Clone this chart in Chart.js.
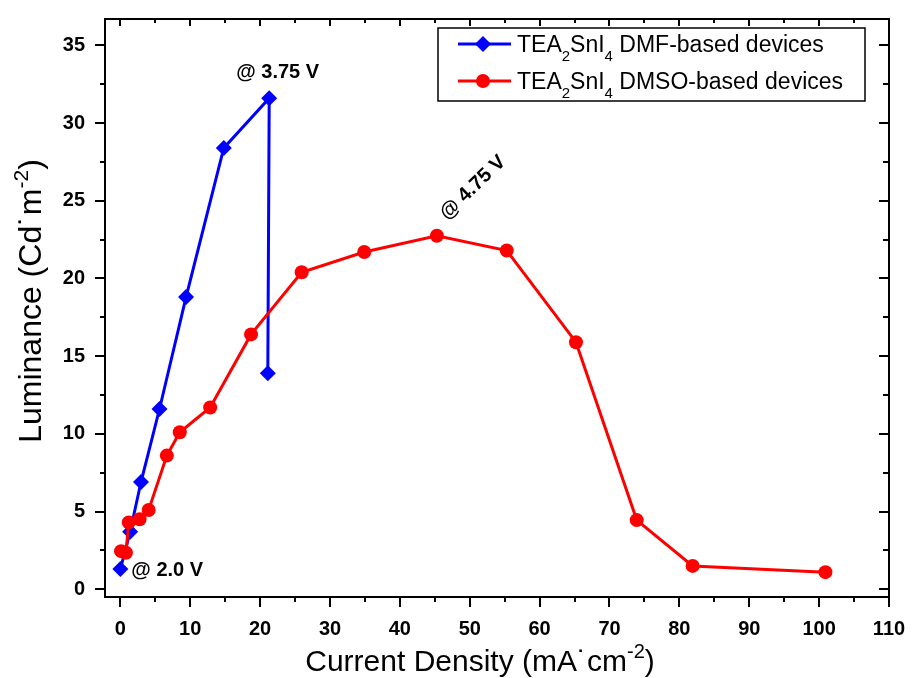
<!DOCTYPE html>
<html>
<head>
<meta charset="utf-8">
<script src="https://cdn.jsdelivr.net/npm/chart.js@4.4.1/dist/chart.umd.min.js"></script>
<style>
  html, body { margin: 0; background: #fff; }
</style>
</head>
<body>
<canvas id="chart" width="914" height="678"></canvas>
<script>
/* TEA2SnI4 LED luminance vs current density */

const dmfX = [0, 1.4, 2.95, 5.6, 9.4, 14.8, 21.3, 21.1];
const dmfY = [1.3, 3.7, 6.9, 11.6, 18.8, 28.4, 31.6, 13.9];

const dmsoX = [0.1, 0.8, 1.2, 2.75, 4.05, 6.65, 8.5, 12.85, 18.7, 25.95, 34.9, 45.3, 55.3, 65.2, 73.9, 81.9, 100.9];
const dmsoY = [2.45, 2.35, 4.3, 4.5, 5.1, 8.6, 10.1, 11.7, 16.4, 20.4, 21.7, 22.75, 21.8, 15.9, 4.45, 1.5, 1.1];

const xTicks = [0, 10, 20, 30, 40, 50, 60, 70, 80, 90, 100, 110];
const yTicks = [0, 5, 10, 15, 20, 25, 30, 35];

const legendRows = [
  [['TEA', 0], ['2', 1], ['SnI', 0], ['4', 1], [' DMF-based devices', 0]],
  [['TEA', 0], ['2', 1], ['SnI', 0], ['4', 1], [' DMSO-based devices', 0]],
];
const xTitle = [['Current Density (mA\u02D9cm', 0], ['-2', 2], [')', 0]];
const yTitle = [['Luminance (Cd\u02D9m', 0], ['-2', 2], [')', 0]];

const BLUE = '#0000ff';
const RED = '#ff0000';
const FONT = "'Liberation Sans', Arial, sans-serif";

// text with sub (1) / superscript (2) parts
function richWidth(ctx, parts, size, family) {
  let w = 0;
  for (const [t, k] of parts) {
    ctx.font = (k ? Math.round(size * 0.65) : size) + 'px ' + family;
    w += ctx.measureText(t).width;
  }
  return w;
}
function drawRich(ctx, parts, x, y, size, family) {
  ctx.textAlign = 'left';
  ctx.textBaseline = 'alphabetic';
  for (const [t, k] of parts) {
    const s = k ? Math.round(size * 0.65) : size;
    ctx.font = s + 'px ' + family;
    const dy = k === 1 ? size * 0.38 : k === 2 ? -size * 0.42 : 0;
    ctx.fillText(t, x, y + dy);
    x += ctx.measureText(t).width;
  }
}

const frameTicks = {
  id: 'frameTicks',
  afterDraw(chart) {
    const { ctx, chartArea: a, scales: { x, y } } = chart;
    ctx.save();
    ctx.strokeStyle = '#000';
    ctx.lineWidth = 2;
    ctx.strokeRect(a.left, a.top, a.right - a.left, a.bottom - a.top);

    ctx.beginPath();
    xTicks.forEach((v, i) => {
      const px = Math.round(x.getPixelForValue(v));
      ctx.moveTo(px, a.bottom); ctx.lineTo(px, a.bottom + 10);
      ctx.moveTo(px, a.top); ctx.lineTo(px, a.top + 7);
      if (i < xTicks.length - 1) {
        const m = Math.round(x.getPixelForValue((v + xTicks[i + 1]) / 2));
        ctx.moveTo(m, a.bottom); ctx.lineTo(m, a.bottom + 5);
        ctx.moveTo(m, a.top); ctx.lineTo(m, a.top + 4);
      }
    });
    const yAll = yTicks.concat([yTicks[yTicks.length - 1] + 5]);
    yAll.forEach((v, i) => {
      const py = Math.round(y.getPixelForValue(v));
      if (i < yTicks.length) {
        ctx.moveTo(a.left, py); ctx.lineTo(a.left - 10, py);
        ctx.moveTo(a.right, py); ctx.lineTo(a.right - 10, py);
      }
      if (i < yAll.length - 1) {
        const mv = (v + yAll[i + 1]) / 2;
        if (mv < y.max) {
          const m = Math.round(y.getPixelForValue(mv));
          ctx.moveTo(a.left, m); ctx.lineTo(a.left - 5, m);
          ctx.moveTo(a.right, m); ctx.lineTo(a.right - 6, m);
        }
      }
    });
    ctx.stroke();

    // axis titles
    ctx.fillStyle = '#000';
    const xw = richWidth(ctx, xTitle, 30, FONT);
    drawRich(ctx, xTitle, 480 - xw / 2, 671, 30, FONT);

    ctx.save();
    ctx.translate(41, 301);
    ctx.rotate(-Math.PI / 2);
    const yw = richWidth(ctx, yTitle, 32, FONT);
    drawRich(ctx, yTitle, -yw / 2, 0, 32, FONT);
    ctx.restore();

    // legend box
    const bx = a.right - 451, by = 28, bw = 427, bh = 73;
    ctx.lineWidth = 1.5;
    ctx.strokeRect(bx, by, bw, bh);
    const rowY = [44, 81];
    chart.data.datasets.forEach((ds, i) => {
      const cy = rowY[i];
      ctx.strokeStyle = ds.borderColor;
      ctx.lineWidth = 3;
      ctx.beginPath();
      ctx.moveTo(bx + 20, cy); ctx.lineTo(bx + 73, cy);
      ctx.stroke();
      ctx.fillStyle = ds.backgroundColor;
      ctx.beginPath();
      if (ds.pointStyle === 'rectRot') {
        const r = 8;
        ctx.moveTo(bx + 45, cy - r); ctx.lineTo(bx + 45 + r, cy);
        ctx.lineTo(bx + 45, cy + r); ctx.lineTo(bx + 45 - r, cy);
      } else {
        ctx.arc(bx + 45, cy, 7, 0, Math.PI * 2);
      }
      ctx.fill();
      ctx.fillStyle = '#000';
      drawRich(ctx, legendRows[i], bx + 79, cy + 8, 23, FONT);
    });

    // voltage notes anchored to data points
    const p0 = chart.getDatasetMeta(0).data[0];
    const p6 = chart.getDatasetMeta(0).data[6];
    const pr = chart.getDatasetMeta(1).data[11];
    ctx.fillStyle = '#000';
    ctx.font = 'bold 20px ' + FONT;
    ctx.textBaseline = 'middle';
    ctx.textAlign = 'left';
    ctx.fillText('@ 2.0 V', p0.x + 11, p0.y + 1);
    ctx.fillText('@ 3.75 V', p6.x - 33, p6.y - 26);
    ctx.save();
    ctx.translate(pr.x + 36, pr.y - 48);
    ctx.rotate(-44 * Math.PI / 180);
    ctx.textAlign = 'center';
    ctx.fillText('@ 4.75 V', 0, 0);
    ctx.restore();

    ctx.restore();
  }
};

new Chart(document.getElementById('chart'), {
  type: 'scatter',
  data: {
    datasets: [
      {
        label: 'DMF',
        data: dmfX.map((v, i) => ({ x: v, y: dmfY[i] })),
        borderColor: BLUE,
        backgroundColor: BLUE,
        pointStyle: 'rectRot',
        pointRadius: 8,
        pointBorderWidth: 0,
        borderWidth: 3,
        showLine: true,
        order: 1,
      },
      {
        label: 'DMSO',
        data: dmsoX.map((v, i) => ({ x: v, y: dmsoY[i] })),
        borderColor: RED,
        backgroundColor: RED,
        pointStyle: 'circle',
        pointRadius: 7,
        pointBorderWidth: 0,
        borderWidth: 3,
        showLine: true,
        order: 0,
      },
    ]
  },
  options: {
    responsive: false,
    animation: false,
    layout: { padding: { top: 19, right: 25, left: 0, bottom: 0 } },
    scales: {
      x: {
        type: 'linear',
        min: -2.2,
        max: 110,
        grid: { display: false, drawTicks: false },
        border: { display: false },
        afterBuildTicks: s => { s.ticks = xTicks.map(v => ({ value: v })); },
        afterFit: s => { s.height = 81; s.paddingLeft = 0; s.paddingRight = 0; },
        ticks: {
          color: '#000',
          padding: 20,
          autoSkip: false,
          maxRotation: 0,
          font: { family: FONT, size: 20, weight: 'bold' },
        },
      },
      y: {
        min: -0.5,
        max: 36.7,
        grid: { display: false, drawTicks: false },
        border: { display: false },
        afterBuildTicks: s => { s.ticks = yTicks.map(v => ({ value: v })); },
        afterFit: s => { s.width = 105; s.paddingTop = 0; s.paddingBottom = 0; },
        ticks: {
          color: '#000',
          padding: 20,
          font: { family: FONT, size: 20, weight: 'bold' },
        },
      },
    },
    plugins: {
      legend: { display: false },
      tooltip: { enabled: false },
    },
  },
  plugins: [frameTicks],
});
</script>
</body>
</html>
